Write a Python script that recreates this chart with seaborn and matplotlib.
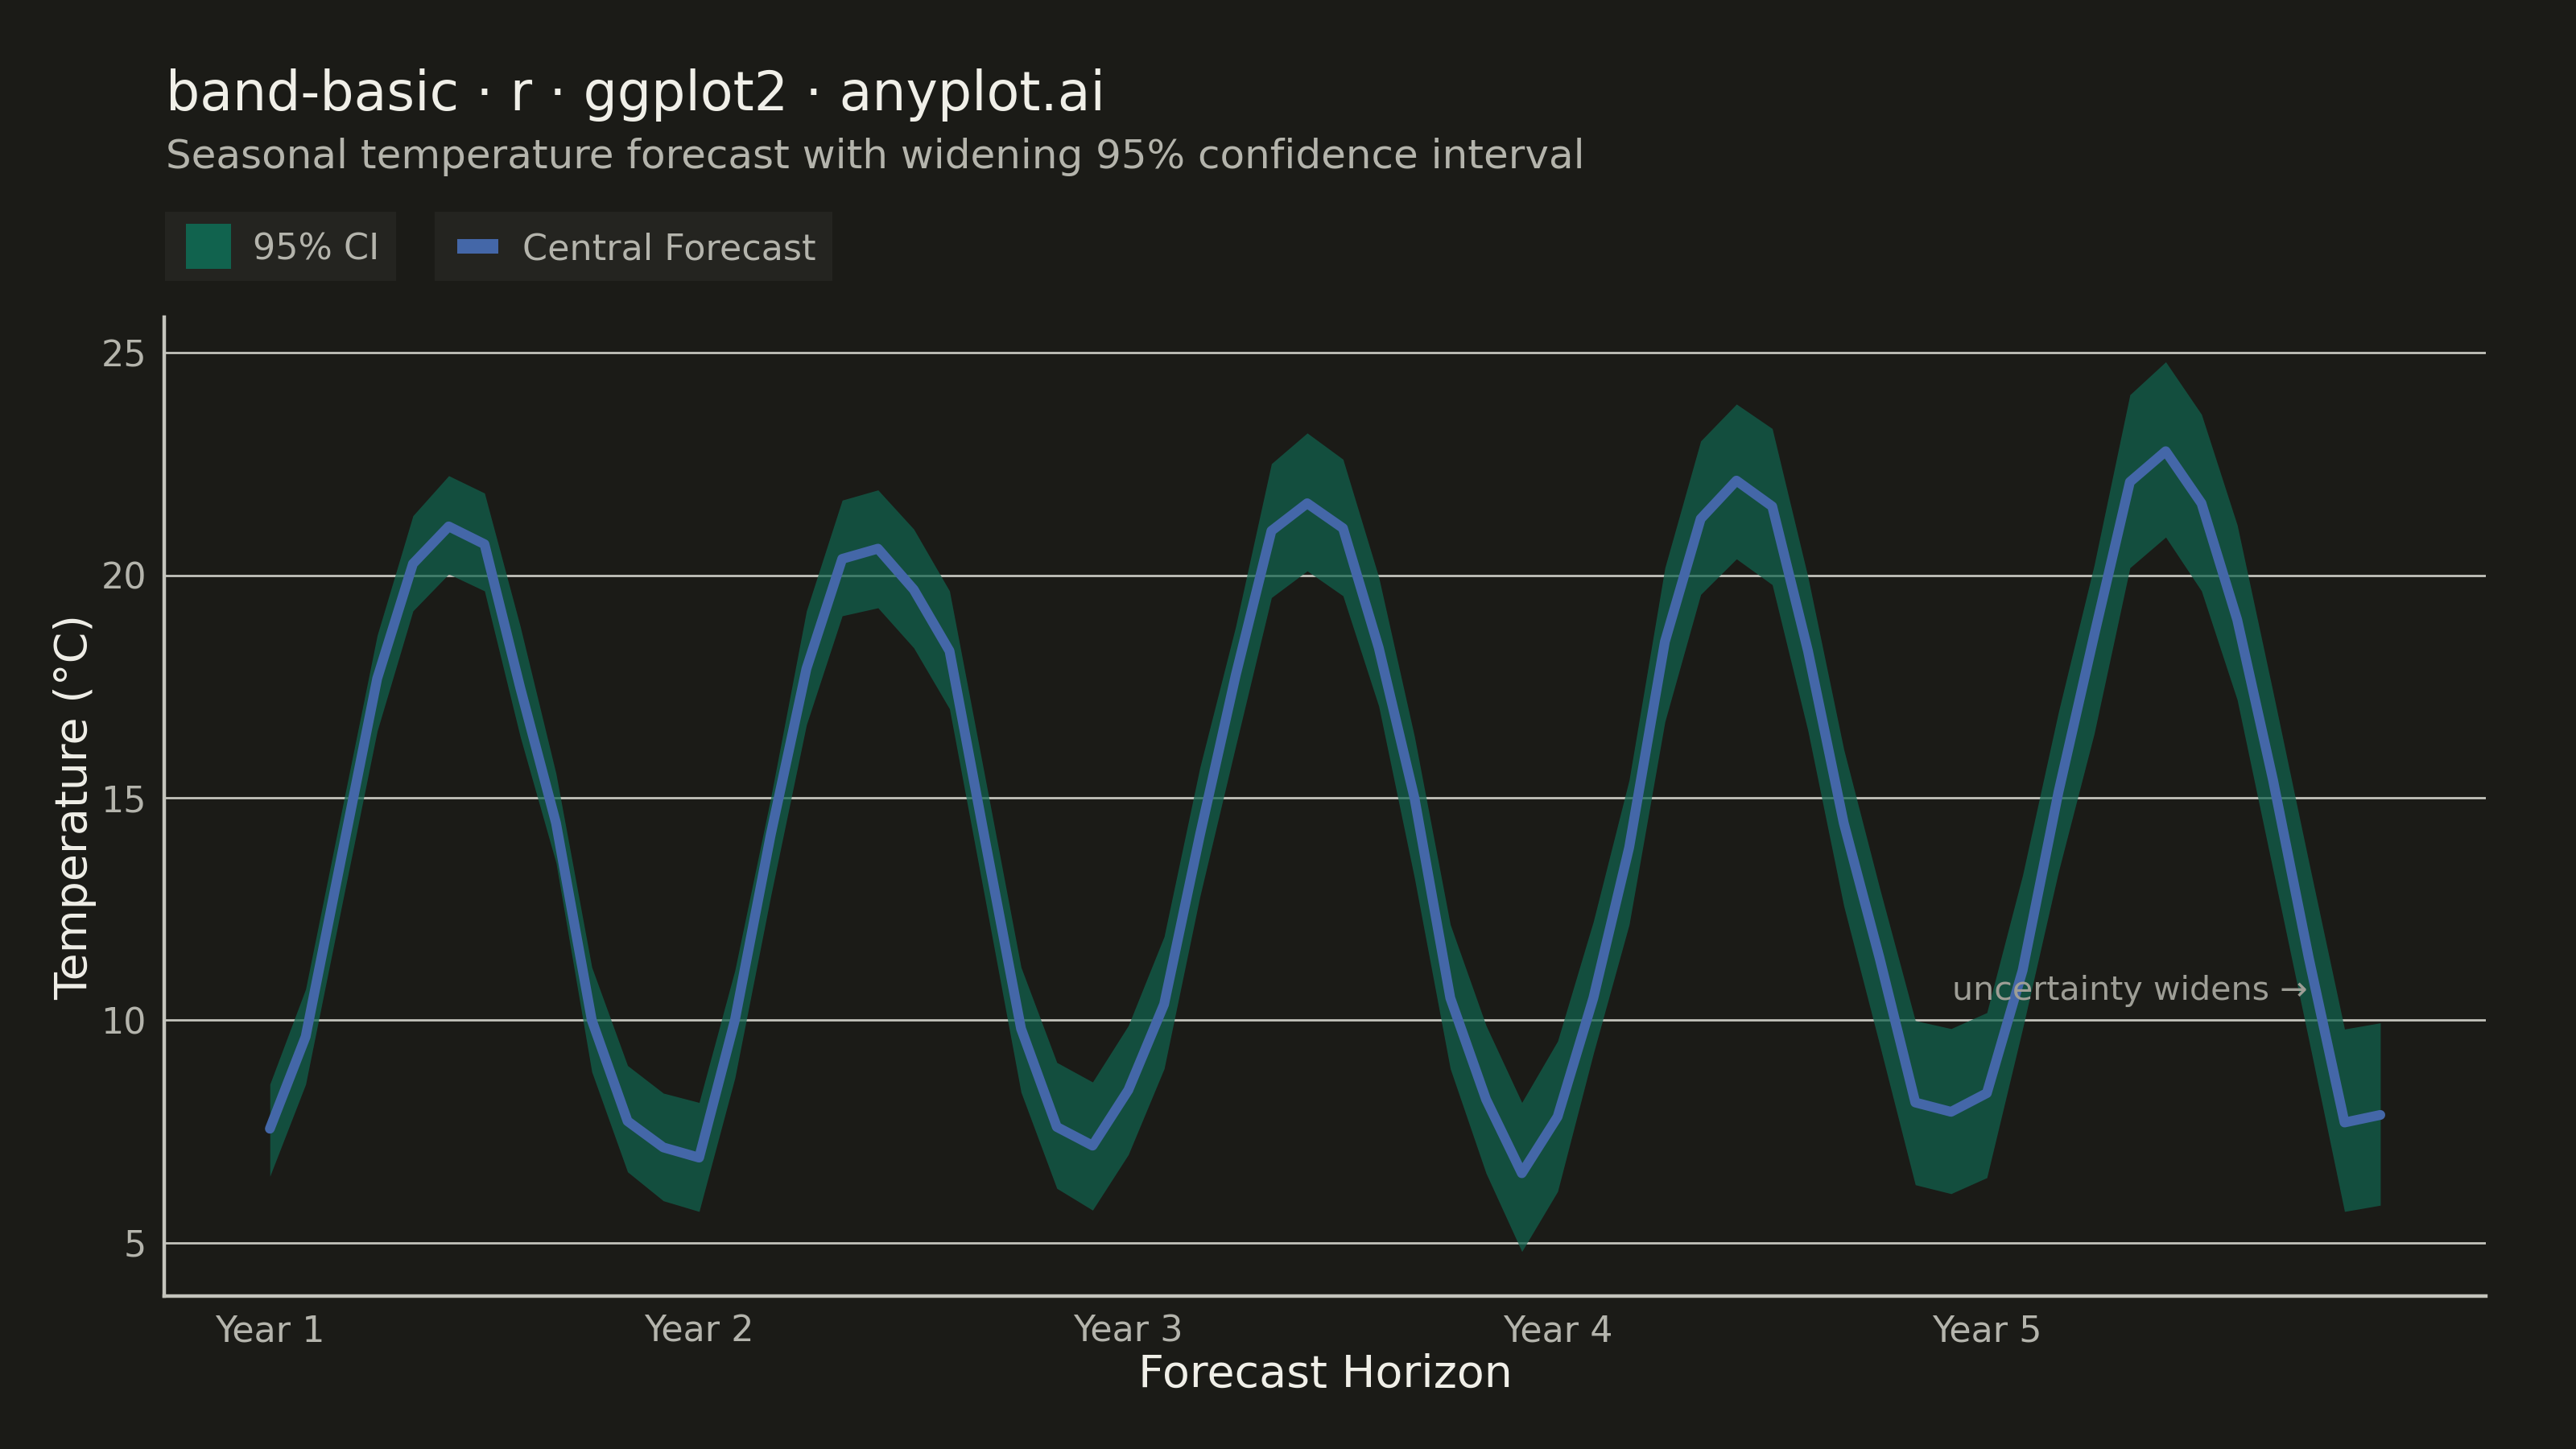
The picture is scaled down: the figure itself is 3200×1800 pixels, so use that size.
import numpy as np
import pandas as pd
import seaborn as sns
from matplotlib import pyplot as plt
from matplotlib.patches import Rectangle
from matplotlib.lines import Line2D

# monthly forecast, 5 years
month = list(range(60))
central = [7.56, 9.63, 13.66, 17.68, 20.26, 21.1, 20.7, 17.47, 14.43, 10.0,
           7.73, 7.14, 6.91, 10.0, 14.16, 17.9, 20.37, 20.6, 19.68, 18.3,
           14.02, 9.81, 7.6, 7.18, 8.43, 10.36, 14.16, 17.75, 21.0, 21.62,
           21.06, 18.37, 14.99, 10.5, 8.22, 6.56, 7.83, 10.5, 13.88, 18.51,
           21.27, 22.13, 21.55, 18.3, 14.43, 11.4, 8.15, 7.94, 8.36, 11.12,
           15.12, 18.65, 22.1, 22.79, 21.62, 19.0, 15.4, 11.4, 7.7, 7.87]
lower = [6.49, 8.56, 12.54, 16.5, 19.2, 20.03, 19.65, 16.37, 13.54, 8.84,
         6.59, 5.94, 5.70, 8.7, 12.78, 16.64, 19.09, 19.27, 18.37, 17.0,
         12.7, 8.38, 6.22, 5.73, 6.98, 8.91, 12.78, 16.16, 19.5, 20.1,
         19.54, 17.06, 13.19, 8.91, 6.56, 4.8, 6.15, 9.25, 12.15, 16.71,
         19.57, 20.37, 19.79, 16.5, 12.57, 9.46, 6.3, 6.1, 6.46, 9.81,
         13.33, 16.44, 20.17, 20.86, 19.65, 17.2, 13.38, 9.56, 5.7, 5.84]
upper = [8.56, 10.7, 14.68, 18.65, 21.34, 22.24, 21.85, 18.85, 15.54, 11.19,
         8.98, 8.36, 8.15, 11.12, 14.99, 19.2, 21.69, 21.92, 21.04, 19.65,
         15.43, 11.19, 9.05, 8.61, 9.88, 11.88, 15.68, 18.85, 22.51, 23.2,
         22.61, 19.96, 16.37, 12.15, 9.88, 8.15, 9.53, 12.22, 15.4, 20.17,
         23.02, 23.85, 23.3, 19.96, 16.09, 12.98, 9.99, 9.81, 10.17, 13.26,
         16.92, 20.23, 24.06, 24.8, 23.62, 21.13, 17.38, 13.56, 9.8, 9.94]
year_ticks = [0, 12, 24, 36, 48]
year_labels = ['Year 1', 'Year 2', 'Year 3', 'Year 4', 'Year 5']

df = pd.DataFrame({'month': month, 'central': central, 'lower': lower, 'upper': upper})

BG = '#1B1B17'
GRID = '#C4C4BC'
BAND = '#11634E'
LINE = '#4467A8'
TXT = '#F0EFE8'
SUB = '#B4B4AC'
KEYBG = '#242420'

sns.set_theme(style='dark')
plt.rcParams['font.family'] = ['DejaVu Sans']
plt.rcParams.update({
    'figure.facecolor': BG,
    'axes.facecolor': BG,
    'savefig.facecolor': BG,
})

fig = plt.figure(figsize=(16, 9), dpi=200)
ax = fig.add_axes([0.0638, 0.1056, 0.9012, 0.6754])

ax.fill_between(df['month'], df['lower'], df['upper'], color=BAND, alpha=0.72, linewidth=0, zorder=2)
sns.lineplot(data=df, x='month', y='central', ax=ax, color=LINE, linewidth=4.4, zorder=3)

# ggplot-like 5% expansion
yr = max(upper) - min(lower)
ax.set_xlim(-2.95, 61.95)
ax.set_ylim(min(lower) - 0.05 * yr, max(upper) + 0.05 * yr)

ax.set_xticks(year_ticks)
ax.set_xticklabels(year_labels)
ax.set_yticks([5, 10, 15, 20, 25])
ax.tick_params(axis='both', length=0, labelsize=16, labelcolor=SUB)
ax.tick_params(axis='x', pad=8)
ax.tick_params(axis='y', pad=8)

ax.grid(axis='y', color=GRID, linewidth=1.0, zorder=1)
ax.grid(axis='x', visible=False)
for s in ['top', 'right']:
    ax.spines[s].set_visible(False)
for s in ['left', 'bottom']:
    ax.spines[s].set_visible(True)
    ax.spines[s].set_color(GRID)
    ax.spines[s].set_linewidth(1.6)

ax.set_xlabel('Forecast Horizon', fontsize=20, color=TXT, labelpad=2)
ax.set_ylabel('Temperature (°C)', fontsize=20, color=TXT, labelpad=2)

ax.text(52, 10.65, 'uncertainty widens \u2192', ha='center', va='center',
        fontsize=14.8, color='#9E9E96', zorder=4)

fig.text(0.0645, 0.924, 'band-basic · r · ggplot2 · anyplot.ai', fontsize=24,
         color=TXT, ha='left', va='baseline')
fig.text(0.0645, 0.884, 'Seasonal temperature forecast with widening 95% confidence interval',
         fontsize=18, color=SUB, ha='left', va='baseline')

# legend drawn as two separate key boxes, like ggplot's top legend
fig.patches.append(Rectangle((0.0641, 0.8061), 0.0897, 0.0478, transform=fig.transFigure,
                             facecolor=KEYBG, edgecolor='none'))
fig.patches.append(Rectangle((0.0722, 0.8144), 0.0175, 0.0311, transform=fig.transFigure,
                             facecolor=BAND, edgecolor='none'))
fig.text(0.0981, 0.821, '95% CI', fontsize=16, color=SUB, ha='left', va='baseline')

fig.patches.append(Rectangle((0.1688, 0.8061), 0.1544, 0.0478, transform=fig.transFigure,
                             facecolor=KEYBG, edgecolor='none'))
fig.lines.append(Line2D([0.1775, 0.1934], [0.830, 0.830], transform=fig.transFigure,
                        color=LINE, linewidth=6.5, solid_capstyle='butt'))
fig.text(0.2028, 0.821, 'Central Forecast', fontsize=16, color=SUB, ha='left', va='baseline')

fig.savefig('out.png', dpi=200)
